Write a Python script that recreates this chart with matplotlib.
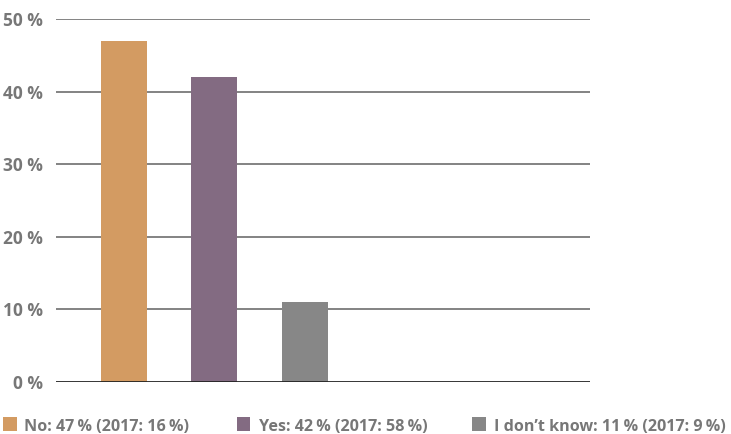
import matplotlib
matplotlib.use('Agg')
import matplotlib.pyplot as plt
from matplotlib.patches import Rectangle

plt.rcParams['font.family'] = ['Open Sans', 'DejaVu Sans']

# answers and shares (percent)
answers = ['No', 'Yes', "I don\u2019t know"]
share_2019 = [47, 42, 11]
share_2017 = [16, 58, 9]
colors = ['#d39b62', '#836b82', '#878787']
yticks = [0, 10, 20, 30, 40, 50]

text_grey = '#777777'
W, H = 731, 434
thin = '\u2009'

fig = plt.figure(figsize=(W / 100, H / 100), dpi=100)
ax = fig.add_axes([0.0766, 0.1198, 0.7305, 0.8364])

x = list(range(len(answers)))
bars = ax.bar(x, share_2019, width=0.508, color=colors, zorder=3)

ax.set_xlim(-0.751, 5.149)
ax.set_ylim(0, 50)
ax.set_yticks(yticks)
ax.set_yticklabels([f'{t} %' for t in yticks], fontsize=12.5,
                   fontweight='bold', color=text_grey)
ax.tick_params(axis='y', length=0, pad=9.5)
ax.set_xticks([])

for t in yticks[1:]:
    ax.axhline(t, color='#6e6e6e', linewidth=1.2, zorder=1)
ax.axhline(0, color='#222222', linewidth=2, zorder=4)

for s in ax.spines.values():
    s.set_visible(False)

# legend row under the plot, laid out by hand (pixel positions)
labels = [f'{a}: {v}{thin}% (2017: {p}{thin}%)'
          for a, v, p in zip(answers, share_2019, share_2017)]
square_left = [2.7, 236.7, 471.7]
text_left = [24, 259, 494]
sq = 13.8
baseline = 430.7
for lab, col, sx, tx in zip(labels, colors, square_left, text_left):
    fig.patches.append(Rectangle((sx / W, 1 - baseline / H), sq / W, sq / H,
                                 transform=fig.transFigure, facecolor=col,
                                 edgecolor='none'))
    fig.text(tx / W, 1 - baseline / H, lab, fontsize=11.6, fontweight='bold',
             color=text_grey, ha='left', va='baseline')

fig.savefig('out.png', dpi=100)
